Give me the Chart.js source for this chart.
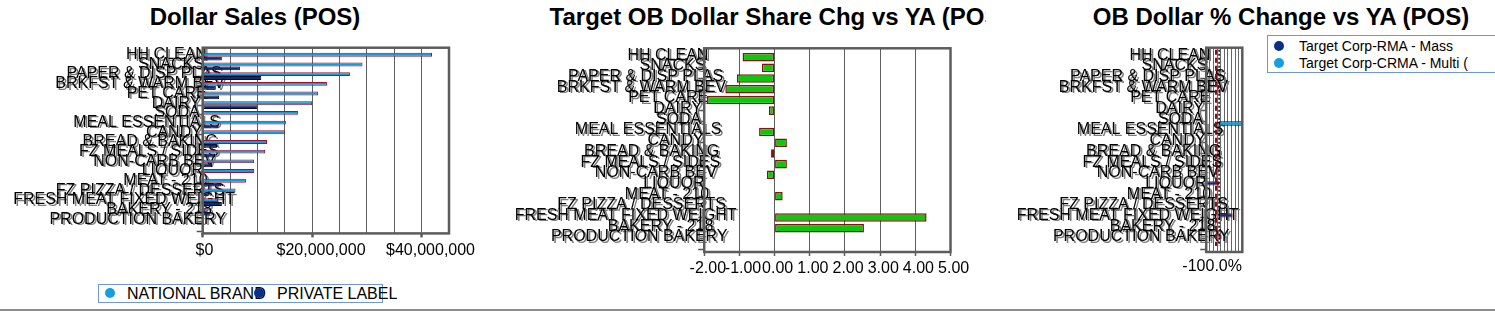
<!DOCTYPE html>
<html>
<head>
<meta charset="utf-8">
<script src="https://cdn.jsdelivr.net/npm/chart.js@4.4.1/dist/chart.umd.min.js"></script>
<style>
  html, body { margin:0; padding:0; background:#fff; }
  body { width:1495px; height:311px; position:relative; overflow:hidden; font-family:"Liberation Sans", Arial, sans-serif; color:#000; }
  canvas { position:absolute; top:0; }
  .title { position:absolute; top:5px; font-weight:bold; font-size:24px; line-height:24px; white-space:nowrap; transform:translateX(-50%); }
  .legend { position:absolute; border:1px solid #6d97da; box-sizing:border-box; white-space:nowrap; }
  .dot { position:absolute; width:10px; height:10px; border-radius:50%; }
  .ltext { position:absolute; white-space:nowrap; }
  #bottomBar { position:absolute; left:0; top:309px; width:1495px; height:2px; background:#8c8c8c; }
</style>
</head>
<body>
<div class="title" style="left:255px;">Dollar Sales (POS)</div>
<div style="position:absolute;left:490px;top:0;width:496px;height:40px;overflow:hidden;">
  <div class="title" style="left:289px;">Target OB Dollar Share Chg vs YA (POS)</div>
</div>
<div class="title" style="left:1281px;">OB Dollar % Change vs YA (POS)</div>

<canvas id="c1" width="480" height="280" style="left:0px;"></canvas>
<canvas id="c2" width="500" height="290" style="left:490px;"></canvas>
<canvas id="c3" width="270" height="290" style="left:990px;"></canvas>

<div id="legLeft" class="legend" style="left:98px;top:284px;width:285px;height:19px;overflow:visible;"></div>
<div id="legRight" class="legend" style="left:1267px;top:35px;width:232px;height:38px;overflow:hidden;"></div>
<div id="bottomBar"></div>

<script>
// ---------------- DATA ----------------
const categories = ['HH CLEAN','SNACKS','PAPER & DISP PLAS','BRKFST & WARM BEV','PET CARE','DAIRY','SODA',
  'MEAL ESSENTIALS','CANDY','BREAD & BAKING','FZ MEALS / SIDES','NON-CARB BEV','LIQUOR','MEAT - 210',
  'FZ PIZZA / DESSERTS','FRESH MEAT FIXED WEIGHT','BAKERY - 218','PRODUCTION BAKERY'];

// Dollar Sales (POS)
const salesSeries = ['NATIONAL BRAND', 'PRIVATE LABEL'];
const nationalBrandSales = [41900000, 29200000, 26900000, 22700000, 21100000, 20000000, 17400000, 15200000,
  15000000, 11750000, 11400000, 9400000, 9400000, 7900000, 6000000, 2800000, 900000, 200000];
const privateLabelSales = [3500000, 6800000, 10700000, 2400000, 3000000, 10000000, null, 2900000,
  null, 2600000, 2300000, 1700000, null, 3400000, 1100000, 3500000, 1300000, null];
const salesTickValues = [0, 20000000, 40000000];
const salesTickLabels = ['$0', '$20,000,000', '$40,000,000'];

// Target OB Dollar Share Chg vs YA (POS)
const shareChg = [-0.91, -0.36, -1.07, -1.40, -1.92, -0.16, -0.02, -0.44, 0.35, -0.10, 0.35, -0.22,
  -0.02, 0.23, -0.01, 4.32, 2.54, 0.01];
const shareTickValues = [-2, -1, 0, 1, 2, 3, 4, 5];
const shareTickLabels = ['-2.00', '-1.00', '0.00', '1.00', '2.00', '3.00', '4.00', '5.00'];

// OB Dollar % Change vs YA (POS)
const pctSeries = ['Target Corp-RMA - Mass', 'Target Corp-CRMA - Multi ('];
const rmaPctChg  = [null, null, null, -15, null, null, null, null, null, null, null, null, -100, null, null, 105, null, 20];
const crmaPctChg = [null, null, null, 7, null, null, 175, null, null, null, null, null, null, null, null, null, null, null];
const pctRefLine = -24;
const pctTickValues = [-100];
const pctTickLabels = ['-100.0%'];

// ---------------- STYLE / HELPERS ----------------
const FONT = '"Liberation Sans", Arial, sans-serif';
const LIGHT = '#119ddb', NAVY = '#0b2b72', RED = '#a3112b', GREEN = '#0ac80a';

function toXY(arr) { return arr.map((v, i) => ({ x: v, y: i })); }

function catLabelsPlugin(labels) {
  return {
    id: 'catLabels',
    beforeDatasetsDraw(chart) {
      const { ctx, chartArea: a, scales: { y } } = chart;
      ctx.save();
      ctx.font = '16px ' + FONT;
      ctx.textAlign = 'left';
      ctx.textBaseline = 'middle';
      labels.forEach((t, i) => {
        const w = ctx.measureText(t).width;
        const x = a.left - 12 - 0.8 * w;
        const yy = y.getPixelForValue(i) - 2;
        ctx.fillStyle = '#7c7c7c';
        ctx.fillText(t, x + 2, yy + 1.5);
        ctx.fillStyle = '#000';
        ctx.fillText(t, x, yy);
      });
      ctx.restore();
    }
  };
}

function xLabelsPlugin(values, labels, yc) {
  return {
    id: 'xLabels',
    afterDraw(chart) {
      const { ctx, scales: { x } } = chart;
      ctx.save();
      ctx.font = '16px ' + FONT;
      ctx.textAlign = 'center';
      ctx.textBaseline = 'middle';
      ctx.fillStyle = '#000';
      values.forEach((v, i) => {
        const w = ctx.measureText(labels[i]).width;
        ctx.fillText(labels[i], x.getPixelForValue(v) + 0.1 * w, yc);
      });
      ctx.restore();
    }
  };
}

const framePlugin = {
  id: 'frame',
  afterDatasetsDraw(chart) {
    const { ctx, chartArea: a } = chart;
    ctx.save();
    ctx.strokeStyle = '#5c5c5c';
    ctx.lineWidth = 2.5;
    ctx.strokeRect(a.left, a.top, a.right - a.left, a.bottom - a.top);
    ctx.restore();
  }
};

const refLinesPlugin = {
  id: 'refLines',
  afterDatasetsDraw(chart) {
    const { ctx, chartArea: a, scales: { x } } = chart;
    ctx.save();
    let px = x.getPixelForValue(pctRefLine);
    ctx.strokeStyle = '#8b0a14'; ctx.lineWidth = 2; ctx.setLineDash([5, 3]);
    ctx.beginPath(); ctx.moveTo(px, a.top + 2); ctx.lineTo(px, a.bottom - 6); ctx.stroke();
    px = x.getPixelForValue(0);
    ctx.strokeStyle = '#000'; ctx.lineWidth = 1.5; ctx.setLineDash([2, 2]);
    ctx.beginPath(); ctx.moveTo(px, a.top + 2); ctx.lineTo(px, a.bottom - 6); ctx.stroke();
    ctx.restore();
  }
};

function baseOptions(pad, yMin, yMax, yWidth, xHeight, xScale) {
  const yTicks = [];
  for (let v = Math.ceil(yMin); v <= yMax; v++) yTicks.push(v);
  return {
    indexAxis: 'y', responsive: false, animation: false, devicePixelRatio: 1,
    layout: { padding: pad },
    plugins: { legend: { display: false }, tooltip: { enabled: false } },
    scales: {
      x: Object.assign({ type: 'linear', position: 'bottom', offset: false, border: { display: false },
        afterFit: s => { s.height = xHeight; } }, xScale),
      y: { type: 'linear', reverse: true, offset: false, min: yMin, max: yMax,
        ticks: { display: false, stepSize: 1, includeBounds: false },
        grid: { offset: false, drawOnChartArea: false, drawTicks: true, tickLength: 6, tickWidth: 1.5, tickColor: '#555' },
        border: { display: false },
        afterBuildTicks: s => { s.min = yMin; s.max = yMax; s.ticks = yTicks.map(v => ({ value: v })); },
        afterFit: s => { s.width = yWidth; } }
    }
  };
}

// ---------------- LEFT: Dollar Sales ----------------
new Chart(document.getElementById('c1'), {
  type: 'bar',
  data: { datasets: [
    { label: salesSeries[0], data: toXY(nationalBrandSales), backgroundColor: LIGHT, borderColor: RED,
      borderWidth: 1, borderSkipped: false, categoryPercentage: 0.8, barPercentage: 1 },
    { label: salesSeries[1], data: toXY(privateLabelSales), backgroundColor: NAVY, borderColor: '#0a0a22',
      borderWidth: 1, borderSkipped: false, categoryPercentage: 0.8, barPercentage: 1 }
  ] },
  options: baseOptions({ top: 47.7, right: 31, left: 0, bottom: 0 }, -0.93, 18.24, 202.7, 280 - 233.4, {
    min: 0, max: 45000000,
    ticks: { display: false, stepSize: 5000000, autoSkip: false },
    grid: { color: '#5e5e5e', lineWidth: 1, drawTicks: true, tickLength: 4, tickWidth: 2.5,
      tickColor: c => (c.tick && salesTickValues.includes(c.tick.value)) ? '#5a5a5a' : 'rgba(0,0,0,0)' }
  }),
  plugins: [catLabelsPlugin(categories), framePlugin, xLabelsPlugin(salesTickValues, salesTickLabels, 251)]
});

// ---------------- MIDDLE: Share Chg ----------------
new Chart(document.getElementById('c2'), {
  type: 'bar',
  data: { datasets: [
    { label: 'Share Chg', data: toXY(shareChg), backgroundColor: GREEN, borderColor: '#8b1010',
      borderWidth: 1.5, borderSkipped: false, categoryPercentage: 0.8, barPercentage: 1 }
  ] },
  options: baseOptions({ top: 48.3, right: 500 - 460.5, left: 0, bottom: 0 }, -0.83, 18.22, 214.2, 290 - 252, {
    min: -2, max: 5,
    ticks: { display: false, stepSize: 1, autoSkip: false },
    grid: { color: '#5e5e5e', lineWidth: 1, drawTicks: true, tickLength: 4, tickWidth: 1.5, tickColor: '#5e5e5e' }
  }),
  plugins: [catLabelsPlugin(categories), framePlugin, xLabelsPlugin(shareTickValues, shareTickLabels, 269)]
});

// ---------------- RIGHT: % Change ----------------
new Chart(document.getElementById('c3'), {
  type: 'bar',
  data: { datasets: [
    { label: pctSeries[0], data: toXY(rmaPctChg), backgroundColor: NAVY, borderColor: RED,
      borderWidth: 1, borderSkipped: false, categoryPercentage: 0.8, barPercentage: 1 },
    { label: pctSeries[1], data: toXY(crmaPctChg), backgroundColor: LIGHT, borderColor: '#0a0a22',
      borderWidth: 1, borderSkipped: false, categoryPercentage: 0.8, barPercentage: 1 }
  ] },
  options: baseOptions({ top: 47.7, right: 270 - 252.3, left: 0, bottom: 0 }, -0.89, 18.22, 216.2, 290 - 252, {
    min: -100, max: 180,
    ticks: { display: false, stepSize: 28, autoSkip: false },
    grid: { color: '#666', lineWidth: 1, drawTicks: true, tickLength: 4, tickColor: 'rgba(0,0,0,0)' }
  }),
  plugins: [catLabelsPlugin(categories), framePlugin, refLinesPlugin, xLabelsPlugin(pctTickValues, pctTickLabels, 267)]
});

// ---------------- LEGENDS (HTML) ----------------
(function () {
  const L = document.getElementById('legLeft');
  const items = [
    { t: salesSeries[0], c: '#139fe0', tx: 28, dx: 6 },
    { t: salesSeries[1], c: '#0b2f85', tx: 178, dx: 155 }
  ];
  items.forEach(it => {
    const s = document.createElement('span');
    s.className = 'ltext';
    s.style.cssText = `left:${it.tx}px;top:0px;font-size:16px;line-height:17px;`;
    s.textContent = it.t;
    L.appendChild(s);
  });
  items.forEach(it => {
    const d = document.createElement('span');
    d.className = 'dot';
    d.style.cssText = `left:${it.dx}px;top:3px;background:${it.c};`;
    L.appendChild(d);
  });

  const R = document.getElementById('legRight');
  const ritems = [
    { t: pctSeries[0], c: '#0b2f85', top: 2, dtop: 5 },
    { t: pctSeries[1], c: '#139fe0', top: 19, dtop: 22 }
  ];
  ritems.forEach(it => {
    const s = document.createElement('span');
    s.className = 'ltext';
    s.style.cssText = `left:31px;top:${it.top}px;font-size:14px;line-height:16px;`;
    s.textContent = it.t;
    R.appendChild(s);
    const d = document.createElement('span');
    d.className = 'dot';
    d.style.cssText = `left:6px;top:${it.dtop}px;background:${it.c};`;
    R.appendChild(d);
  });
})();
</script>
</body>
</html>
